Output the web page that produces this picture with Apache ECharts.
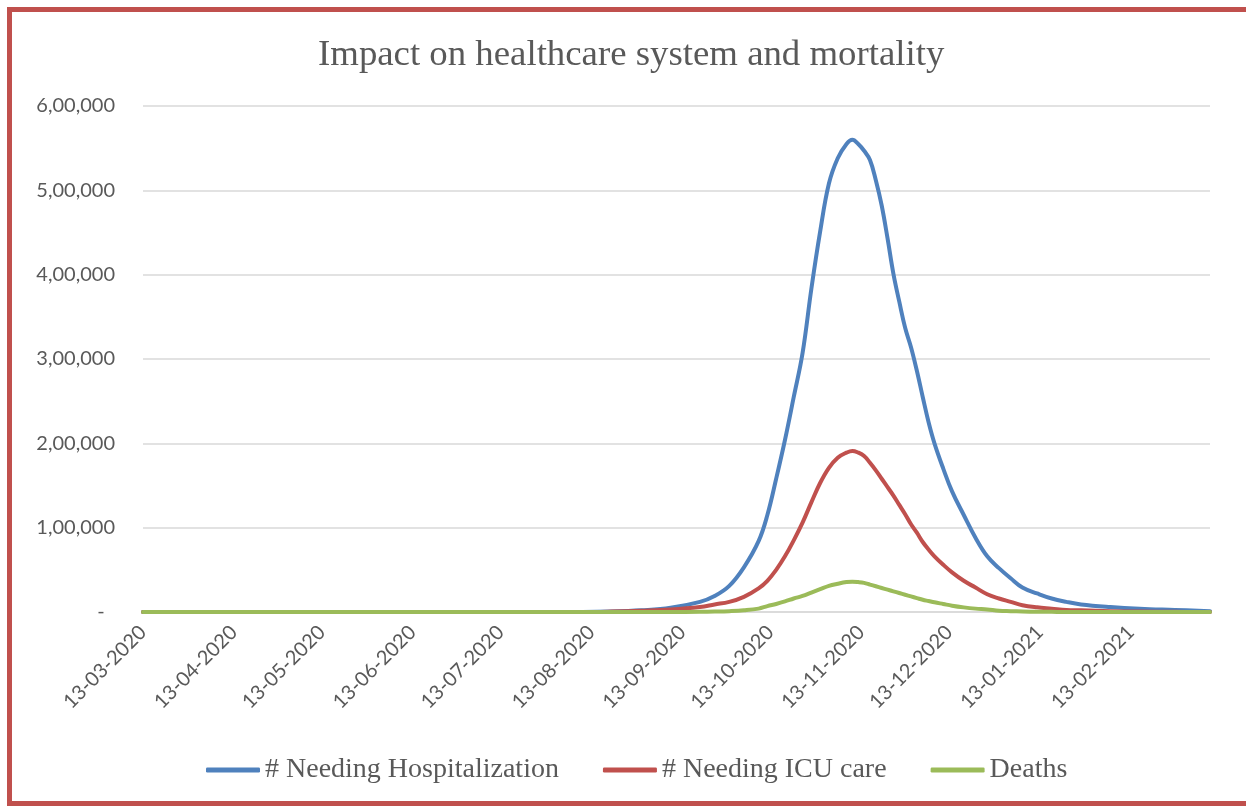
<!DOCTYPE html>
<html>
<head>
<meta charset="utf-8">
<title>Impact on healthcare system and mortality</title>
<script src="https://cdn.jsdelivr.net/npm/echarts@6/dist/echarts.min.js"></script>
<style>
  html, body { margin: 0; padding: 0; background: #ffffff; overflow: hidden; }
  #frame {
    position: absolute; left: 7px; top: 7px; width: 1320px; height: 799px;
    box-sizing: border-box; border: 5px solid #C0504D; border-right: none;
  }
  #chart { position: absolute; left: 0; top: 0; width: 1246px; height: 806px; }
</style>
</head>
<body>
<div id="chart"></div>
<div id="frame"></div>
<script>
// Sample dates (daily model output, read at these days)
const sampleDates = [
  '2020-03-13', '2020-08-10', '2020-08-20', '2020-08-30', '2020-09-09', '2020-09-19',
  '2020-09-24', '2020-09-29', '2020-10-04', '2020-10-09', '2020-10-12', '2020-10-15',
  '2020-10-18', '2020-10-21', '2020-10-24', '2020-10-27', '2020-10-30', '2020-11-02',
  '2020-11-05', '2020-11-08', '2020-11-10', '2020-11-12', '2020-11-14', '2020-11-16',
  '2020-11-18', '2020-11-20', '2020-11-22', '2020-11-24', '2020-11-26', '2020-11-28',
  '2020-11-30', '2020-12-02', '2020-12-04', '2020-12-06', '2020-12-08', '2020-12-11',
  '2020-12-14', '2020-12-18', '2020-12-22', '2020-12-26', '2020-12-30', '2021-01-03',
  '2021-01-07', '2021-01-12', '2021-01-17', '2021-01-22', '2021-01-27', '2021-02-06',
  '2021-02-16', '2021-02-28', '2021-03-12'
];

const hospitalization = [
  0, 0, 500, 2000, 5000, 12000,
  19000, 31000, 53000, 84000, 115000, 158000,
  204000, 255000, 307000, 383000, 451000, 508000,
  538000, 555000, 560000, 555000, 547000, 536000,
  512000, 482000, 443000, 401000, 368000, 337000,
  314000, 286000, 255000, 225000, 200000, 170000,
  143000, 115000, 88000, 66000, 52000, 40000,
  29000, 22000, 16000, 12000, 9000, 6000,
  4000, 2500, 1000
];

const icuCare = [
  0, 0, 500, 1500, 3000, 6000,
  9000, 12000, 18000, 28000, 37000, 50000,
  66000, 85000, 106000, 130000, 153000, 171000,
  183000, 189000, 191000, 189000, 185000, 177000,
  168000, 158000, 148000, 138000, 127000, 116000,
  104000, 94000, 83000, 74000, 66000, 56000,
  47000, 37000, 29000, 21000, 16000, 12000,
  8000, 5500, 4000, 2500, 2000, 1000,
  500, 200, 0
];

const deaths = [
  0, 0, 0, 0, 0, 200,
  500, 1000, 2000, 4000, 7000, 9500,
  12500, 16000, 19000, 23000, 27000, 31000,
  33500, 35500, 36000, 35500, 34500, 32500,
  30500, 28500, 26500, 24500, 22500, 20500,
  18500, 16500, 14500, 13000, 11500, 9500,
  7500, 5500, 4000, 3000, 1500, 1000,
  600, 300, 150, 0, 0, 0,
  0, 0, 0
];

const seriesNames = ['# Needing Hospitalization', '# Needing ICU care', 'Deaths'];
const seriesColors = ['#4F81BD', '#C0504D', '#9BBB59'];

// Month ticks on the 13th, and the y-axis tick labels (Indian digit grouping)
const monthTicks = [
  '2020-03-13', '2020-04-13', '2020-05-13', '2020-06-13', '2020-07-13', '2020-08-13',
  '2020-09-13', '2020-10-13', '2020-11-13', '2020-12-13', '2021-01-13', '2021-02-13'
];
const yTickLabels = ['-  ', '1,00,000', '2,00,000', '3,00,000', '4,00,000', '5,00,000', '6,00,000'];

function toTime(s) {
  const p = s.split('-').map(Number);
  return new Date(p[0], p[1] - 1, p[2]).getTime();
}
function pad(n) { return (n < 10 ? '0' : '') + n; }
function fmtDate(t) {
  const d = new Date(t);
  return pad(d.getDate()) + '-' + pad(d.getMonth() + 1) + '-' + d.getFullYear();
}

const xMin = toTime('2020-03-13');
const xMax = toTime('2021-03-12');
const tickTimes = monthTicks.map(toTime);

function pairs(values) {
  return sampleDates.map((d, i) => [toTime(d), values[i]]);
}

const labelFont = 'Lato, "Open Sans", sans-serif';
const serifFont = '"Liberation Serif", "DejaVu Serif", serif';

const chart = echarts.init(document.getElementById('chart'), null, { renderer: 'canvas' });
chart.setOption({
  backgroundColor: '#ffffff',
  animation: false,
  title: {
    text: 'Impact on healthcare system and mortality',
    left: 313,
    top: 32,
    textStyle: { fontFamily: serifFont, fontSize: 36.8, fontWeight: 'normal', color: '#595959' }
  },
  legend: {
    data: seriesNames,
    left: 201,
    top: 751,
    itemWidth: 54,
    itemHeight: 5,
    itemGap: 44,
    icon: 'roundRect',
    textStyle: { fontFamily: serifFont, fontSize: 28, color: '#595959' }
  },
  grid: { left: 143, right: 36, top: 106, bottom: 194, containLabel: false },
  xAxis: {
    type: 'value',
    min: xMin,
    max: xMax,
    splitLine: { show: false },
    axisLine: { lineStyle: { color: '#D9D9D9', width: 1.5 } },
    axisTick: { show: false },
    axisLabel: {
      customValues: tickTimes,
      rotate: 45,
      margin: 17,
      hideOverlap: false,
      showMinLabel: true,
      fontFamily: labelFont,
      fontSize: 20,
      color: '#595959',
      formatter: (v) => fmtDate(v)
    }
  },
  yAxis: {
    type: 'value',
    min: 0,
    max: 600000,
    interval: 100000,
    axisLine: { show: false },
    axisTick: { show: false },
    splitLine: { lineStyle: { color: '#D9D9D9', width: 1.5 } },
    axisLabel: {
      margin: 28,
      fontFamily: labelFont,
      fontSize: 20,
      color: '#595959',
      formatter: (v) => yTickLabels[Math.round(v / 100000)]
    }
  },
  series: [hospitalization, icuCare, deaths].map((vals, i) => ({
    name: seriesNames[i],
    type: 'line',
    data: pairs(vals),
    showSymbol: false,
    smooth: 0.4,
    color: seriesColors[i],
    lineStyle: { width: 4, color: seriesColors[i], cap: 'round', join: 'round' },
    z: 2 + i
  }))
});
</script>
</body>
</html>
